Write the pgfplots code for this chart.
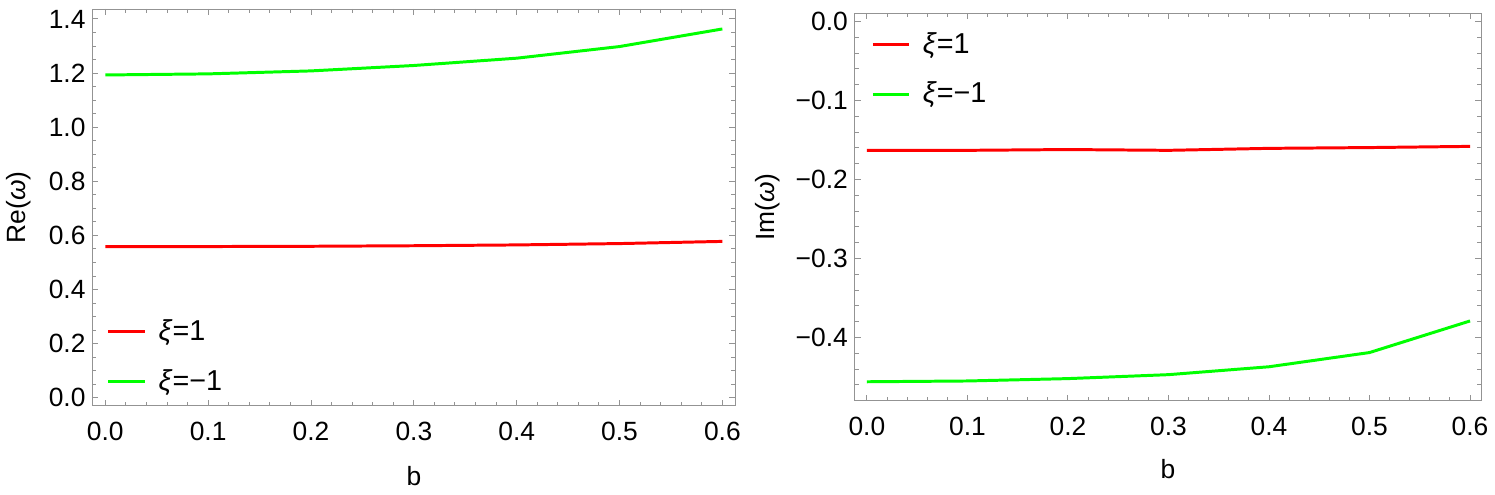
\documentclass[border=0pt]{standalone}
\usepackage{fontspec}
\setmainfont{Liberation Sans}
\usepackage{pgfplots}
\pgfplotsset{compat=1.18}
\newcommand{\fs}{\fontsize{13.3}{15}\selectfont}
\newcommand{\lfs}{\fontsize{14.5}{16}\selectfont}
\pgfplotsset{
  mma/.style={
    scale only axis,
    anchor=south west,
    axis line style={draw=gray!85},
    tick align=inside,
    major tick length=3pt,
    minor tick length=2pt,
    every tick/.style={draw=gray!85, line width=0.5pt},
    tick label style={font=\fs, black},
    xticklabel style={yshift=-4.5pt},
    label style={font=\fs},
    xlabel={b},
    xtick={0,0.1,0.2,0.3,0.4,0.5,0.6},
    xticklabels={0.0,0.1,0.2,0.3,0.4,0.5,0.6},
    minor xtick={0.02,0.04,0.06,0.08,0.12,0.14,0.16,0.18,0.22,0.24,0.26,0.28,0.32,0.34,0.36,0.38,0.42,0.44,0.46,0.48,0.52,0.54,0.56,0.58},
    legend cell align=left,
    legend style={draw=none, fill=none, font=\lfs, row sep=9pt, column sep=4pt},
    legend image code/.code={\draw[#1] (0pt,0pt) -- (18.5pt,0pt);},
    every axis plot/.append style={line width=1.5pt},
  }
}
\begin{document}
\begin{tikzpicture}
\path (0,0) rectangle (747.5pt,249.5pt);
\begin{axis}[mma,
  at={(44pt,45pt)}, width=324pt, height=200pt,
  xmin=-0.0125, xmax=0.6125, ymin=-0.029, ymax=1.437,
  ytick={0,0.2,0.4,0.6,0.8,1.0,1.2,1.4},
  yticklabels={0.0,0.2,0.4,0.6,0.8,1.0,1.2,1.4},
  minor ytick={0.05,0.1,0.15,0.25,0.3,0.35,0.45,0.5,0.55,0.65,0.7,0.75,0.85,0.9,0.95,1.05,1.1,1.15,1.25,1.3,1.35},
  ylabel={Re(\textit{ω})},
  ylabel style={xshift=0pt, yshift=2pt},
  xlabel style={at={(axis description cs:0.5,0)}, anchor=center, yshift=-35.5pt},
  legend style={at={(0.005,0.0)}, anchor=south west, xshift=2.5pt, yshift=2pt},
]
\addplot[red] coordinates {(0,0.559) (0.1,0.559) (0.2,0.560) (0.3,0.562) (0.4,0.565) (0.5,0.570) (0.6,0.578)};
\addlegendentry{\textit{ξ}=1}
\addplot[green] coordinates {(0,1.193) (0.1,1.197) (0.2,1.208) (0.3,1.228) (0.4,1.255) (0.5,1.298) (0.6,1.363)};
\addlegendentry{\textit{ξ}=−1}
\end{axis}
\begin{axis}[mma,
  at={(428.3pt,47.5pt)}, width=315.7pt, height=195.3pt,
  xmin=-0.012, xmax=0.611, ymin=-0.480, ymax=0.0105,
  ytick={-0.4,-0.3,-0.2,-0.1,0},
  yticklabels={−0.4,−0.3,−0.2,−0.1,0.0},
  minor ytick={-0.46,-0.44,-0.42,-0.38,-0.36,-0.34,-0.32,-0.28,-0.26,-0.24,-0.22,-0.18,-0.16,-0.14,-0.12,-0.08,-0.06,-0.04,-0.02},
  ylabel={Im(\textit{ω})},
  ylabel style={yshift=1pt},
  xlabel style={at={(axis description cs:0.5,0)}, anchor=center, yshift=-34.5pt},
  legend style={at={(0.005,1.0)}, anchor=north west, xshift=3.5pt, yshift=-5.5pt},
]
\addplot[red] coordinates {(0,-0.163) (0.1,-0.163) (0.2,-0.162) (0.3,-0.163) (0.4,-0.1605) (0.5,-0.1595) (0.6,-0.158)};
\addlegendentry{\textit{ξ}=1}
\addplot[green] coordinates {(0,-0.456) (0.1,-0.455) (0.2,-0.452) (0.3,-0.447) (0.4,-0.437) (0.5,-0.419) (0.6,-0.379)};
\addlegendentry{\textit{ξ}=−1}
\end{axis}
\end{tikzpicture}
\end{document}
